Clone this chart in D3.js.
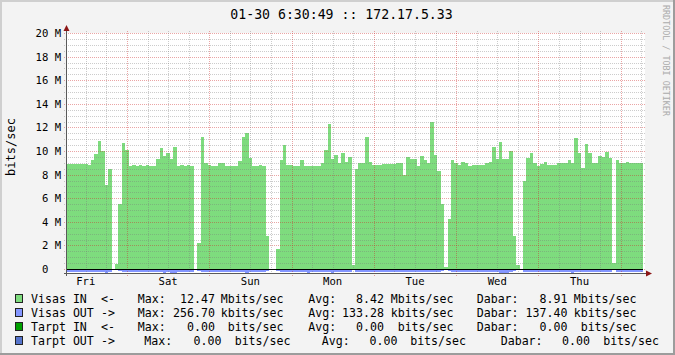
<!DOCTYPE html>
<html>
<head>
<meta charset="utf-8">
<script src="https://cdn.jsdelivr.net/npm/d3@7"></script>
<style>
  body { margin: 0; background: #fff; }
  text { font-family: "DejaVu Sans Mono", monospace; white-space: pre; }
</style>
</head>
<body>
<svg id="chart" width="675" height="355"></svg>
<script>
// graph covers one week, one sample per hour, ending 01-30 6:30:49
const startTime = new Date(2015, 0, 23, 6, 30, 49)
const hourCount = 168

// Visas IN, Mbits/sec, hourly
const visasIn = [
  8.92, 8.92, 8.92, 8.92, 8.92, 8.92, 8.85, 9.26, 9.75, 10.87, 9.97, 7.15,
  8.5, 0, 0.4, 5.5, 10.7, 10.05, 8.73, 8.8, 8.73, 8.8, 8.73, 8.85,
  8.73, 8.73, 9.3, 10.25, 9.6, 9.83, 9.3, 10.3, 8.73, 8.8, 8.73, 8.8,
  8.73, 0, 2.2, 11.2, 9.0, 8.85, 8.73, 8.73, 8.95, 8.95, 8.73, 8.73,
  8.73, 8.73, 9.15, 11.2, 11.5, 9.4, 8.73, 8.73, 8.8, 8.73, 2.8, 0,
  0, 1.7, 9.2, 10.53, 8.85, 8.8, 8.73, 8.73, 9.2, 8.73, 8.73, 8.73,
  8.73, 8.73, 8.95, 10.1, 12.3, 9.3, 9.7, 8.95, 9.8, 9.05, 9.5, 0.3,
  8.5, 8.95, 8.95, 11.2, 9.05, 8.85, 8.85, 8.85, 8.9, 8.9, 8.9, 8.9,
  9.0, 9.0, 8.0, 9.5, 9.3, 9.3, 8.73, 9.6, 9.2, 9.0, 12.47, 9.7,
  8.3, 5.5, 0.2, 4.2, 9.2, 8.95, 8.85, 9.1, 8.95, 8.76, 8.8, 8.8,
  8.8, 8.8, 8.95, 9.05, 10.3, 9.3, 10.8, 9.3, 9.3, 10.0, 2.8, 0.3,
  0, 7.5, 9.4, 9.8, 8.95, 8.76, 8.9, 9.1, 8.8, 8.85, 8.85, 8.95,
  8.95, 8.95, 9.2, 8.95, 11.1, 9.8, 8.6, 10.6, 9.8, 8.95, 8.95, 9.6,
  9.5, 9.9, 9.4, 0.5, 9.2, 8.95, 8.95, 9.1, 8.95, 8.95, 8.95, 8.95
]

// Visas OUT, Mbits/sec, hourly (drawn below zero)
const visasOut = [
  0.14, 0.14, 0.14, 0.14, 0.14, 0.14, 0.14, 0.14, 0.14, 0.14, 0.14, 0.26,
  0.14, 0, 0.03, 0.1, 0.14, 0.14, 0.14, 0.14, 0.14, 0.14, 0.14, 0.14,
  0.14, 0.14, 0.14, 0.14, 0.25, 0.14, 0.25, 0.25, 0.14, 0.14, 0.14, 0.14,
  0.14, 0, 0.07, 0.14, 0.14, 0.14, 0.14, 0.14, 0.14, 0.14, 0.14, 0.14,
  0.14, 0.14, 0.14, 0.14, 0.25, 0.14, 0.14, 0.14, 0.14, 0.14, 0.1, 0,
  0, 0.07, 0.14, 0.14, 0.14, 0.14, 0.14, 0.14, 0.14, 0.14, 0.25, 0.14,
  0.14, 0.14, 0.14, 0.14, 0.14, 0.25, 0.14, 0.14, 0.14, 0.14, 0.14, 0,
  0.14, 0.14, 0.14, 0.14, 0.14, 0.14, 0.14, 0.14, 0.14, 0.14, 0.14, 0.14,
  0.14, 0.14, 0.14, 0.14, 0.14, 0.14, 0.14, 0.14, 0.14, 0.14, 0.14, 0.14,
  0.14, 0.1, 0, 0.07, 0.14, 0.14, 0.14, 0.14, 0.14, 0.14, 0.14, 0.14,
  0.14, 0.14, 0.14, 0.14, 0.14, 0.14, 0.27, 0.27, 0.27, 0.14, 0.1, 0,
  0, 0.14, 0.14, 0.14, 0.14, 0.14, 0.14, 0.14, 0.14, 0.14, 0.14, 0.14,
  0.14, 0.14, 0.14, 0.25, 0.14, 0.14, 0.14, 0.14, 0.14, 0.14, 0.14, 0.14,
  0.14, 0.14, 0.14, 0.03, 0.14, 0.14, 0.14, 0.14, 0.14, 0.14, 0.14, 0.14
]

const yTicks = [0, 2, 4, 6, 8, 10, 12, 14, 16, 18, 20]
const yLabels = [' 0  ', ' 2 M', ' 4 M', ' 6 M', ' 8 M', '10 M', '12 M', '14 M', '16 M', '18 M', '20 M']

const legendNames = ['Visas IN', 'Visas OUT', 'Tarpt IN', 'Tarpt OUT']
const legendArrows = ['<-', '->', '<-', '->']
const legendMax = ['12.47', '256.70', '0.00', '0.00']
const legendAvg = ['8.42', '133.28', '0.00', '0.00']
const legendCur = ['8.91', '137.40', '0.00', '0.00']
const legendUnits = ['Mbits/sec', 'kbits/sec', 'bits/sec', 'bits/sec']
const legendColors = ['#7edc7e', '#8496ff', '#00a000', '#5674cc']

const titleText = '01-30 6:30:49 :: 172.17.5.33'

const svg = d3.select('#chart')
const endTime = d3.timeHour.offset(startTime, hourCount)

const x = d3.scaleTime().domain([startTime, endTime]).range([67, 643])
const y = d3.scaleLinear().domain([0, 20]).range([269, 33])

// canvas and frame
svg.append('rect').attr('width', 675).attr('height', 355).attr('fill', '#f3f3f3')
svg.append('rect').attr('x', 0).attr('y', 0).attr('width', 675).attr('height', 2).attr('fill', '#cfcfcf')
svg.append('rect').attr('x', 0).attr('y', 0).attr('width', 2).attr('height', 355).attr('fill', '#cfcfcf')
svg.append('rect').attr('x', 673).attr('y', 0).attr('width', 2).attr('height', 355).attr('fill', '#9c9c9c')
svg.append('rect').attr('x', 0).attr('y', 353).attr('width', 675).attr('height', 2).attr('fill', '#9c9c9c')

// plot area
svg.append('rect').attr('x', 67).attr('y', 33).attr('width', 578).attr('height', 240).attr('fill', '#fff')

const inPoints = visasIn.map((v, i) => ({ t: d3.timeHour.offset(startTime, i), v: v }))
inPoints.push({ t: endTime, v: visasIn[visasIn.length - 1] })
const outPoints = visasOut.map((v, i) => ({ t: d3.timeHour.offset(startTime, i), v: v }))
outPoints.push({ t: endTime, v: visasOut[visasOut.length - 1] })

const inArea = d3.area()
  .x(d => x(d.t))
  .y0(y(0))
  .y1(d => y(d.v))
  .curve(d3.curveStepAfter)

const outArea = d3.area()
  .x(d => x(d.t))
  .y0(y(0) + 1)
  .y1(d => y(-d.v) + 1)
  .curve(d3.curveStepAfter)

svg.append('path').datum(inPoints).attr('d', inArea)
  .attr('fill', legendColors[0]).attr('shape-rendering', 'crispEdges')
svg.append('path').datum(outPoints).attr('d', outArea)
  .attr('fill', legendColors[1]).attr('shape-rendering', 'crispEdges')

// grid on top of the data
const minorColor = 'rgba(120,120,120,0.38)'
const majorColor = 'rgba(205,40,40,0.42)'
const grid = svg.append('g').attr('shape-rendering', 'crispEdges')

const minorY = y.ticks(40).filter(v => v % 2 !== 0)
grid.selectAll('.hminor').data(minorY).enter().append('line')
  .attr('x1', 64).attr('x2', 646)
  .attr('y1', d => Math.round(y(d)) + 0.5).attr('y2', d => Math.round(y(d)) + 0.5)
  .attr('stroke', minorColor).attr('stroke-dasharray', '1,1')
grid.selectAll('.hmajor').data(yTicks).enter().append('line')
  .attr('x1', 64).attr('x2', 646)
  .attr('y1', d => Math.round(y(d)) + 0.5).attr('y2', d => Math.round(y(d)) + 0.5)
  .attr('stroke', majorColor).attr('stroke-dasharray', '1,1')

const days = d3.timeDay.range(startTime, endTime)
const sixHours = d3.timeHour.every(6).range(startTime, endTime).filter(t => t.getHours() !== 0)
grid.selectAll('.vminor').data(sixHours).enter().append('line')
  .attr('x1', d => Math.round(x(d)) + 0.5).attr('x2', d => Math.round(x(d)) + 0.5)
  .attr('y1', 31).attr('y2', 273)
  .attr('stroke', minorColor).attr('stroke-dasharray', '1,1')
grid.selectAll('.vmajor').data(days).enter().append('line')
  .attr('x1', d => Math.round(x(d)) + 0.5).attr('x2', d => Math.round(x(d)) + 0.5)
  .attr('y1', 31).attr('y2', 276)
  .attr('stroke', majorColor).attr('stroke-dasharray', '1,1')

// zero line
svg.append('line').attr('x1', 67).attr('x2', 643).attr('y1', y(0) + 0.5).attr('y2', y(0) + 0.5)
  .attr('stroke', '#000').attr('shape-rendering', 'crispEdges')

// axes
svg.append('line').attr('x1', 64).attr('x2', 647).attr('y1', 273.5).attr('y2', 273.5)
  .attr('stroke', '#5a5a5a').attr('shape-rendering', 'crispEdges')
svg.append('line').attr('x1', 66.5).attr('x2', 66.5).attr('y1', 29).attr('y2', 276)
  .attr('stroke', '#5a5a5a').attr('shape-rendering', 'crispEdges')
svg.append('path').attr('d', 'M646,270.5L652,273.5L646,276.5Z').attr('fill', '#8c1616')
svg.append('path').attr('d', 'M63.5,31L66.5,25L69.5,31Z').attr('fill', '#8c1616')

// y labels
svg.selectAll('.ylab').data(yTicks).enter().append('text')
  .attr('x', 35.5).attr('y', d => y(d) + 4)
  .attr('font-size', '10.6px').attr('fill', '#000')
  .text((d, i) => yLabels[i])

// day labels at noon
const noons = days.map(d => d3.timeHour.offset(d, -12)).concat(d3.timeHour.offset(days[days.length - 1], 12))
svg.selectAll('.xlab').data(noons.filter(t => t >= startTime && t <= endTime)).enter().append('text')
  .attr('x', d => x(d)).attr('y', 284.5)
  .attr('text-anchor', 'middle').attr('font-size', '10.6px').attr('fill', '#000')
  .text(d3.timeFormat('%a'))

// title and side texts
svg.append('text').attr('x', 341.5).attr('y', 18.5).attr('text-anchor', 'middle')
  .attr('font-size', '13.2px').attr('fill', '#000').text(titleText)
svg.append('text').attr('transform', 'translate(15,147) rotate(-90)').attr('text-anchor', 'middle')
  .attr('font-size', '12px').attr('fill', '#000').text('bits/sec')
svg.append('text').attr('transform', 'translate(663,5) rotate(90)')
  .attr('font-size', '8.4px').attr('fill', '#ababab').text('RRDTOOL / TOBI OETIKER')

// legend
const rowY = [303, 317, 331, 345]
const colsA = { max: 137.7, maxEnd: 215, maxUnit: 283.5, avg: 308.3, avgEnd: 384, avgUnit: 453.5, cur: 476.7, curEnd: 567.5, curUnit: 636.5 }
const colsB = { max: 144.3, maxEnd: 221.5, maxUnit: 290.5, avg: 321.7, avgEnd: 397.5, avgUnit: 466, cur: 500.7, curEnd: 590, curUnit: 659 }

legendNames.forEach((name, i) => {
  const c = i === 3 ? colsB : colsA
  const g = svg.append('g').attr('font-size', '11.6px').attr('fill', '#000')
  g.append('rect').attr('x', 15.5).attr('y', rowY[i] - 8.5).attr('width', 7).attr('height', 8)
    .attr('fill', legendColors[i]).attr('stroke', '#222').attr('shape-rendering', 'crispEdges')
  g.append('text').attr('x', 31).attr('y', rowY[i]).text(name)
  g.append('text').attr('x', 101).attr('y', rowY[i]).text(legendArrows[i])
  g.append('text').attr('x', c.max).attr('y', rowY[i]).text('Max:')
  g.append('text').attr('x', c.maxEnd).attr('y', rowY[i]).attr('text-anchor', 'end').text(legendMax[i])
  g.append('text').attr('x', c.maxUnit).attr('y', rowY[i]).attr('text-anchor', 'end').text(legendUnits[i])
  g.append('text').attr('x', c.avg).attr('y', rowY[i]).text('Avg:')
  g.append('text').attr('x', c.avgEnd).attr('y', rowY[i]).attr('text-anchor', 'end').text(legendAvg[i])
  g.append('text').attr('x', c.avgUnit).attr('y', rowY[i]).attr('text-anchor', 'end').text(legendUnits[i])
  g.append('text').attr('x', c.cur).attr('y', rowY[i]).text('Dabar:')
  g.append('text').attr('x', c.curEnd).attr('y', rowY[i]).attr('text-anchor', 'end').text(legendCur[i])
  g.append('text').attr('x', c.curUnit).attr('y', rowY[i]).attr('text-anchor', 'end').text(legendUnits[i])
})
</script>
</body>
</html>
